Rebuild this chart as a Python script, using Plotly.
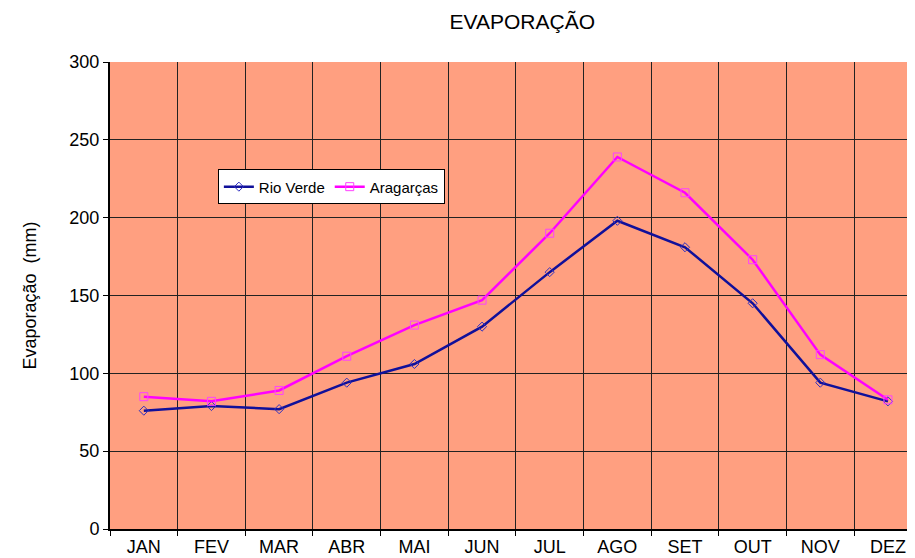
import plotly.graph_objects as go

months = ["JAN", "FEV", "MAR", "ABR", "MAI", "JUN", "JUL", "AGO", "SET", "OUT", "NOV", "DEZ"]
rio_verde = [76, 79, 77, 94, 106, 130, 165, 198, 181, 145, 94, 82]
aragarcas = [85, 82, 89, 111, 131, 147, 190, 239, 216, 173, 112, 83]
y_ticks = [0, 50, 100, 150, 200, 250, 300]

fig = go.Figure()
fig.add_trace(go.Scatter(
    x=months, y=rio_verde, name="Rio Verde", mode="lines+markers",
    line=dict(color="#10109A", width=2.5),
    marker=dict(symbol="diamond-open", size=7, color="#3030C0", line=dict(width=1)),
))
fig.add_trace(go.Scatter(
    x=months, y=aragarcas, name="Aragarças", mode="lines+markers",
    line=dict(color="#FF00FF", width=2.5),
    marker=dict(symbol="square-open", size=8, color="#FF40FF", line=dict(width=1)),
))

fig.update_layout(
    width=907, height=550,
    margin=dict(l=102, r=0, t=54, b=29),
    paper_bgcolor="white",
    plot_bgcolor="#FF9F80",
    font=dict(family="Liberation Sans, Arial, sans-serif", size=18, color="black"),
    title=dict(text="EVAPORAÇÃO", x=0.567, xanchor="center", y=0.975, yanchor="middle",
               font=dict(size=21, color="black")),
    showlegend=True,
    legend=dict(
        orientation="h", x=0.134, y=0.77, xanchor="left", yanchor="top",
        bgcolor="white", bordercolor="black", borderwidth=1,
        font=dict(size=15), itemwidth=30, tracegroupgap=0,
    ),
    xaxis=dict(
        type="category", range=[-0.5, 11.4], tickson="boundaries",
        showgrid=True, gridcolor="#222222", gridwidth=1,
        ticks="outside", ticklen=5, tickcolor="black",
        showline=True, linecolor="black", linewidth=2,
        tickfont=dict(size=18),
    ),
    yaxis=dict(
        range=[0, 300], tickvals=y_ticks,
        showgrid=True, gridcolor="#222222", gridwidth=1,
        ticks="outside", ticklen=5, tickcolor="black",
        showline=True, linecolor="black", linewidth=2,
        zeroline=False,
        title=dict(text="Evaporação  (mm)", font=dict(size=18), standoff=28),
        tickfont=dict(size=18),
    ),
)

fig.write_html("out.html")
